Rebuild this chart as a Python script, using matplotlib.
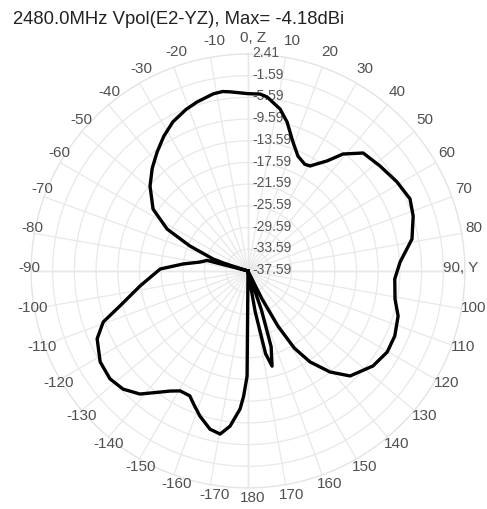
import numpy as np
import matplotlib
matplotlib.use("Agg")
from matplotlib import pyplot as plt

plt.rcParams["font.family"] = ["Liberation Sans", "DejaVu Sans"]

title = "2480.0MHz Vpol(E2-YZ), Max= -4.18dBi"

# radial scale (dB) as printed along the 0 direction
r_labels = ["2.41", "-1.59", "-5.59", "-9.59", "-13.59", "-17.59",
            "-21.59", "-25.59", "-29.59", "-33.59", "-37.59"]
r_min, r_max = -37.59, 2.41

# angle tick labels, clockwise from the top
theta_ticks = list(range(0, 360, 10))
theta_labels = ["0, Z", "10", "20", "30", "40", "50", "60", "70", "80",
                "90, Y", "100", "110", "120", "130", "140", "150", "160", "170",
                "180", "-170", "-160", "-150", "-140", "-130", "-120", "-110",
                "-100", "-90", "-80", "-70", "-60", "-50", "-40", "-30", "-20", "-10"]

# pattern: angle (deg) and gain (dBi)
angle_deg = [-180, -179.5, -178, -176.7, -173.4, -170.3, -166.5, -161.7, -158,
             -155, -150.5, -147, -144, -138.7, -133.4, -128, -121.6, -114.2,
             -109.4, -105.3, -97.9, -88.7, -83.9, -79.4, -75.5, -74.5, -72,
             -71, -66.7, -62.6, -56.9, -49.1, -43, -37.4, -32, -26.7, -21,
             -16.8, -11, -8, -5.7, 0, 3.9, 6.2, 11.2, 14.7, 19.2, 23.5, 28,
             30.6, 33, 35.7, 39.1, 44.3, 51.5, 59.1, 66, 71.6, 79, 86.6, 93.1,
             100.8, 106.7, 113.9, 120.2, 127.2, 135.8, 140.9, 145.7, 149, 151.5,
             153.5, 155, 159, 161, 163, 165.8, 168, 170, 172, 180]
gain_db = [-37.59, -18.2, -14.5, -12.1, -8.8, -7.1, -7.6, -9.4, -11.0,
           -12.2, -12.2, -11.2, -10.0, -7.4, -5.9, -5.3, -5.6, -7.1,
           -9.3, -13.1, -17.5, -21.4, -25.5, -28.6, -29.8, -37.59, -33,
           -30.8, -25.9, -20.8, -16.7, -13.7, -11.7, -10.0, -8.3, -6.8, -5.7,
           -5.05, -4.3, -4.18, -4.4, -4.9, -4.9, -5.3, -7.15, -9.2, -12.4, -14.5, -15.3,
           -15.1, -14.0, -12.6, -9.8, -7.2, -6.5, -5.6, -4.9, -5.5, -6.8, -9.5, -10.5,
           -10.0, -8.7, -8.0, -7.9, -8.65, -10.6, -13.6, -17.3, -21, -26,
           -32, -37.59, -37.59, -30, -23, -19.5, -22, -30, -37.59, -37.59]

W, H = 487, 510
cx, cy, R = 248, 272, 217  # pixel centre and radius of the polar area

fig = plt.figure(figsize=(W / 100, H / 100), dpi=100)
ax = fig.add_axes([(cx - R) / W, (H - cy - R) / H, 2 * R / W, 2 * R / H],
                  projection="polar")
ax.set_theta_zero_location("N")
ax.set_theta_direction(-1)
ax.set_rlim(r_min, r_max)
ax.set_rticks([r_min + 4 * k for k in range(11)])
ax.set_yticklabels([])
ax.set_thetagrids(theta_ticks, labels=[])
ax.grid(True, color="#e8e8e8", lw=0.9)
ax.spines["polar"].set_color("#e4e4e4")
ax.spines["polar"].set_linewidth(0.9)

# darker main axes
for t in (0, 90, 180, 270):
    ax.plot([np.deg2rad(t)] * 2, [r_min, r_max], color="#cccccc", lw=0.9, zorder=1)

th = np.deg2rad(angle_deg)
g = np.maximum(np.array(gain_db), r_min)
ax.plot(th, g, color="black", lw=2.4, zorder=5, solid_joinstyle="round")

# angle labels outside the circle
D = 2 * R
for t, lab in zip(theta_ticks, theta_labels):
    a = np.deg2rad(t)
    x = 0.5 + (224 * np.sin(a) + 5) / D
    y = 0.5 + (230 * np.cos(a) + 4) / D
    ha = "center"
    if t == 90:
        x, ha = (478 - (cx - R)) / D, "right"
    ax.text(x, y, lab, transform=ax.transAxes, ha=ha, va="center",
            fontsize=11, color="#505050", clip_on=False)

# radial labels along the 0 direction
for k, lab in enumerate(r_labels):
    rr = R * (1 - k / 10)
    ax.text(0.5 + 4 / D, 0.5 + (rr + 2) / D, lab, transform=ax.transAxes,
            ha="left", va="center", fontsize=10, color="#555555", zorder=3)

fig.text(13 / W, 1 - 19 / H, title, ha="left", va="center",
         fontsize=13.3, color="#222222")

fig.savefig("out.png", dpi=100)
